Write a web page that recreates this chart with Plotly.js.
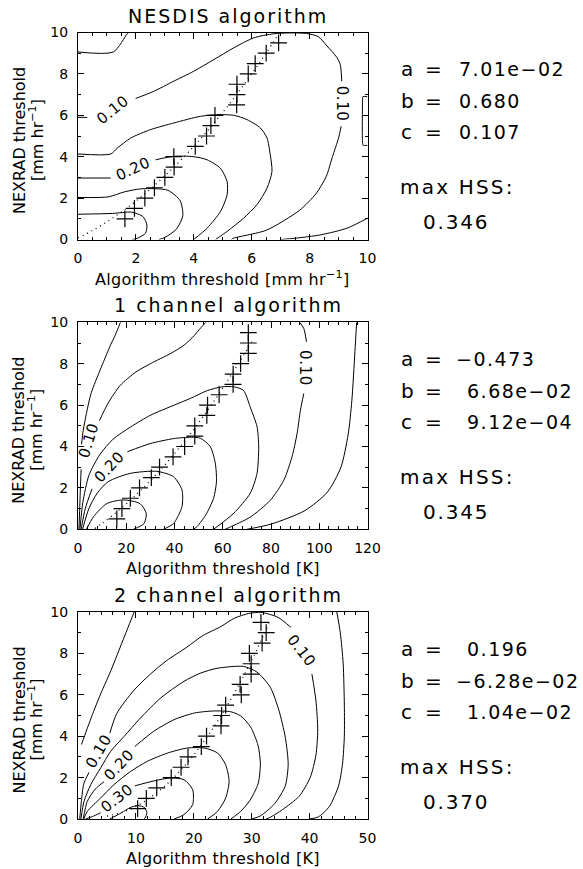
<!DOCTYPE html>
<html><head><meta charset="utf-8">
<script src="https://cdn.plot.ly/plotly-3.0.1.min.js"></script>
<style>html,body{margin:0;padding:0;background:#fff;} #chart{width:583px;height:869px;}</style>
</head><body><div id="chart"></div>
<script>
// ---------------- DATA ----------------
// Panel titles / axis titles
const panelTitles = ["NESDIS algorithm", "1 channel algorithm", "2 channel algorithm"];
const xTitles = ["Algorithm threshold [mm hr<sup>\u22121</sup>]", "Algorithm threshold [K]", "Algorithm threshold [K]"];
const xRanges = [[0, 10], [0, 120], [0, 50]];
const xMajor = [2, 20, 10];
const xMinor = [0.5, 4, 2];

// Fit coefficients and scores (text panel)
const coefA = ["7.01e\u221202", "\u22120.473", "0.196"];
const coefB = ["0.680", "6.68e\u221202", "\u22126.28e\u221202"];
const coefC = ["0.107", "9.12e\u221204", "1.04e\u221202"];
const maxHSS = ["0.346", "0.345", "0.370"];

// Best thresholds (plus markers): NEXRAD threshold values
const nexradThr1 = [1.0,1.5,2.0,2.5,3.0,3.5,4.0,4.5,5.0,5.5,6.0,6.5,7.0,7.5,8.0,8.5,9.0,9.5];
const algThr1    = [1.62,1.95,2.31,2.64,3.0,3.32,3.31,4.05,4.44,4.59,4.73,5.48,5.49,5.49,5.88,6.12,6.5,6.93];
const nexradThr2 = [0.5,1.0,1.5,2.0,2.5,3.0,3.5,4.0,4.5,5.0,5.5,6.0,6.5,7.0,7.5,8.0,8.5,9.0,9.5];
const algThr2    = [16.1,18.2,21.7,25.5,30.4,33.8,39.4,44.2,48.4,48.4,53.4,53.7,58.5,64.3,64.3,67.4,70.6,70.6,70.6];
const nexradThr3 = [0.5,1.0,1.5,2.0,2.5,3.0,3.5,4.0,4.5,5.0,5.5,6.0,6.5,7.0,7.5,8.0,8.5,9.0,9.5];
const algThr3    = [10.3,11.8,13.6,16.1,17.8,19.0,21.3,22.2,24.7,24.8,25.5,28.2,28.0,29.9,29.9,29.6,31.8,32.5,31.6];

// Fitted curves (dotted)
const fitX1 = [0,0.5,1,1.5,2,2.5,3,3.5,4,4.5,5,5.5,6,6.5,6.95];
const fitY1 = [0.07,0.437,0.857,1.331,1.858,2.439,3.073,3.761,4.502,5.297,6.145,7.047,8.002,9.011,9.964];
const fitX2 = [7,10,15,20,25,30,35,40,45,50,55,60,65,70,72];
const fitY2 = [0.039,0.286,0.734,1.228,1.767,2.352,2.982,3.658,4.38,5.147,5.96,6.818,7.722,8.672,9.064];
const fitX3 = [5,7.5,10,12.5,15,17.5,20,22.5,25,27.5,30,32,33];
const fitY3 = [0.142,0.31,0.608,1.036,1.594,2.282,3.1,4.048,5.126,6.334,7.672,8.836,9.449];

// HSS contour paths [algorithm threshold, NEXRAD threshold]; null = gap for label
const nesdis005a = [[0,9.06],[1.22,9.06],[1.7,9.94],[1.75,10]];
const nesdis005b = [[10,1.03],[9.3,0.55],[8.4,0.23],[7.5,0.06],[7.0,0]];
const nesdis010 = [[0,5.9],[0.32,5.9],null,[1.99,6.81],[2.62,7.16],[3.31,7.65],[4.0,8.13],[4.69,8.69],[5.38,9.26],[6.07,9.74],[6.76,9.94],[7.33,9.98],[7.9,9.95],[8.3,9.8],[8.6,9.35],[8.94,8.8],[9.06,8.45],[9.11,7.65],null,[9.09,5.47],[9.0,4.9],[8.79,4.0],[8.57,3.03],[8.23,2.23],[7.66,1.42],[6.51,0.45],[5.34,0.05],[5.3,0]];
const nesdis010e = [[10,6.9],[9.84,6.9],[9.83,6.75],[9.83,4.65],[9.85,4.55],[10,4.55]];
const nesdis015 = [[0,4.13],[1.13,4.13],[1.36,4.42],[1.82,4.9],[2.51,5.31],[3.31,5.63],[4.23,5.95],[4.8,6.03],[5.38,6.0],[5.84,5.79],[6.3,5.39],[6.53,4.9],[6.64,4.1],[6.7,3.29],[6.53,2.48],[6.18,1.68],[5.72,1.03],[5.15,0.39],[4.75,0]];
const nesdis020 = [[0,2.97],[1.13,2.97],null,[2.68,3.85],[3.31,4.02],[4.0,4.0],[4.46,3.85],[4.92,3.44],[5.15,2.8],[5.15,2.15],[4.92,1.35],[4.46,0.55],[4.0,0]];
const nesdis025 = [[0,2.03],[1.05,2.06],[1.6,2.3],[2.2,2.45],[3.1,2.38],[3.53,1.87],[3.62,1.15],[3.4,0.5],[3.0,0.1],[2.8,0]];
const nesdis030 = [[0,1.22],[1.2,1.26],[1.85,1.32],[2.25,1.1],[2.38,0.7],[2.33,0.3],[2.05,0.06],[1.88,0]];

const ch1_005a = [[1.45,4.1],[2.2,4.8],[3.5,5.6],[5.5,6.6],[9.2,7.7],[13.1,8.8],[15.5,9.4],[17.6,10]];
const ch1_005b = [[115.5,10],[114.8,8.6],[113.5,6.2],[112,4.6],[109,3.0],[103.4,1.8],[94,0.9],[80,0.25],[70,0]];
const ch1_010a = [[0.4,0],[0.7,1.0],[1.0,2.0],[1.3,2.9],null,[8.9,5.25],[12.5,6.1],[17.5,6.95],[24,7.6],[30,8.0],[38.5,8.5],[44,8.9],[48.1,9.35],[51,9.75],[53,10]];
const ch1_010b = [[91.9,10],[93.6,9.7],[94.7,9.06],null,[93.6,6.56],[92.2,5.75],[90.8,4.62],[88.7,3.5],[85.3,2.37],[79.7,1.4],[71.4,0.59],[63.1,0.11],[61,0]];
const ch1_015 = [[0.8,0],[2.0,1.3],[4.5,2.6],[9.0,3.6],[14.5,4.35],[21.9,4.95],[30.2,5.52],[39.9,6.0],[46.7,6.33],[53.6,6.7],[59.5,6.88],[64.8,6.88],[68.6,6.71],[71.4,5.9],[74.2,4.96],[74.9,3.98],[74.2,2.7],[71.4,1.74],[64.5,0.77],[56.2,0]];
const ch1_020 = [[1.3,0],[3.0,1.0],[5.8,1.95],null,[20.5,3.75],[29.9,4.14],[39.6,4.38],[47,4.45],[50.7,4.4],[54.8,4.0],[56.9,3.2],[57.4,2.3],[56.2,1.5],[53,0.7],[49.5,0.15],[48,0]];
const ch1_025 = [[1.9,0],[4.5,1.0],[8.0,1.75],[12.5,2.3],[21.6,2.7],[32.7,2.8],[39.6,2.54],[43.1,1.9],[43.1,1.09],[39.6,0.28],[35.4,0]];
const ch1_030 = [[3.5,0],[6.4,0.6],[11.9,1.24],[18.8,1.42],[25.7,1.24],[28.3,0.76],[27.3,0.27],[23,0]];

const ch2_005a = [[0.6,3.6],[1.5,4.3],[2.7,5.2],[4.0,6.1],[5.5,7.05],[7.5,8.45],[9.7,10]];
const ch2_005b = [[44.7,10],[45.3,9.0],[45.8,7.5],[46,5.5],[46,4.0],[45.7,2.7],[45.0,1.6],[43.4,0.6],[41.5,0.1],[40,0]];
const ch2_010 = [[0.3,0],[0.6,0.9],[1.0,1.7],[1.9,2.25],null,[5.5,4.15],[6.7,5.1],[9.6,6.2],[12.5,7.0],[15.3,7.65],[18.8,8.3],[21.5,8.85],[24.7,9.3],[27,9.7],[29.5,9.93],[31.6,9.98],[34.5,9.75],[36.8,9.25],null,[40.4,7.0],[41.1,5.7],[41.4,4.3],[41.1,3.1],[40.1,2.0],[38.2,1.1],[35.3,0.45],[33.2,0.08],[32.5,0]];
const ch2_015 = [[0.5,0],[1.04,0.85],[2.2,1.66],[3.9,2.46],[5.65,3.27],[7.96,3.99],[10.8,4.88],[14.3,5.85],[18.3,6.65],[21.1,7.04],[24,7.28],[28.6,7.37],[30.9,7.1],[33.2,6.37],[34.7,5.25],[35.8,3.95],[36.3,2.65],[35.8,1.6],[34,0.75],[31.5,0.15],[30,0]];
const ch2_020 = [[0.9,0],[1.6,0.85],[3.0,1.45],[4.5,1.8],null,[9.8,3.5],[13.1,4.24],[16.6,4.8],[20.1,5.12],[23.5,5.22],[26.4,5.18],[28.1,4.98],[29.8,4.45],[31.1,3.55],[31.5,2.65],[31.1,1.7],[29.7,0.9],[28.1,0.37],[26.4,0]];
const ch2_025 = [[1.0,0],[1.6,0.37],[3.9,1.01],[6.2,1.66],[9.1,2.3],[12,2.79],[15.5,3.19],[18.9,3.43],[21.8,3.43],[24.1,3.19],[25.5,2.62],[26.1,1.82],[25.5,1.01],[24.1,0.37],[22.4,0]];
const ch2_030 = [[1.3,0],[2.5,0.12],[3.9,0.3],null,[9.8,1.6],[13.1,1.84],[16.0,1.98],[18.3,1.9],[19.8,1.42],[19.8,0.69],[18.3,0.21],[16.6,0]];
const ch2_035 = [[5.5,0],[7.5,0.3],[9.0,0.55],[10.3,0.65],[11.5,0.55],[11.9,0.3],[11.6,0.05],[11.4,0]];

const contours = [
  [nesdis005a, nesdis005b, nesdis010, nesdis010e, nesdis015, nesdis020, nesdis025, nesdis030],
  [ch1_005a, ch1_005b, ch1_010a, ch1_010b, ch1_015, ch1_020, ch1_025, ch1_030],
  [ch2_005a, ch2_005b, ch2_010, ch2_015, ch2_020, ch2_025, ch2_030, ch2_035]
];
const markX = [algThr1, algThr2, algThr3];
const markY = [nexradThr1, nexradThr2, nexradThr3];
const fitXs = [fitX1, fitX2, fitX3];
const fitYs = [fitY1, fitY2, fitY3];

// contour labels: [x, y, text, angle]
const contourLabels = [
  [[1.2, 6.25, "0.10", -39], [1.9, 3.42, "0.20", -25], [9.12, 6.56, "0.10", 90]],
  [[4.57, 4.3, "0.10", -73], [12.9, 3.03, "0.20", -47], [94.0, 7.8, "0.10", 90]],
  [[3.63, 3.27, "0.10", -60], [7.1, 2.62, "0.20", -47], [6.8, 1.01, "0.30", -38], [38.6, 8.1, "0.10", 52]]
];

// ---------------- BUILD ----------------
const W = 583, H = 869;
const FONT = "DejaVu Sans";
const L = 78, R = 367.5;
const tops = [32.5, 322.3, 612];
const PH = 207;
const px = v => v / W;
const py = v => 1 - v / H;
const spaced = (t, s) => '<span style="letter-spacing:' + s + 'px">' + t + '</span>';

const traces = [];
const annotations = [];
const layout = {
  width: W, height: H, margin: {l: 0, r: 0, t: 0, b: 0},
  paper_bgcolor: "white", plot_bgcolor: "white", showlegend: false,
  font: {family: FONT, color: "black"}
};

for (let i = 0; i < 3; i++) {
  const sfx = i === 0 ? "" : String(i + 1);
  const xa = "x" + sfx, ya = "y" + sfx;
  const top = tops[i], bot = top + PH;
  const axBase = {
    showline: true, linecolor: "black", linewidth: 1, mirror: "ticks",
    ticks: "inside", ticklen: 6, tickcolor: "black", tickwidth: 1,
    showgrid: false, zeroline: false, fixedrange: true,
    tickfont: {family: FONT, size: 14, color: "black"}
  };
  layout["xaxis" + sfx] = Object.assign({}, axBase, {
    domain: [px(L), px(R)], anchor: ya, range: xRanges[i], dtick: xMajor[i], tick0: 0,
    minor: {dtick: xMinor[i], ticks: "inside", ticklen: 3, tickcolor: "black", showgrid: false},
    ticklabelstandoff: 6
  });
  layout["yaxis" + sfx] = Object.assign({}, axBase, {
    domain: [py(bot), py(top)], anchor: xa, range: [0, 10], dtick: 2, tick0: 0,
    minor: {dtick: 1, ticks: "inside", ticklen: 3, tickcolor: "black", showgrid: false},
    ticklabelstandoff: 6
  });

  contours[i].forEach(c => {
    traces.push({
      type: "scatter", mode: "lines", xaxis: xa, yaxis: ya,
      x: c.map(p => p ? p[0] : null), y: c.map(p => p ? p[1] : null),
      connectgaps: false, hoverinfo: "skip",
      line: {color: "black", width: 1, shape: "spline", smoothing: 0.7}
    });
  });
  traces.push({
    type: "scatter", mode: "lines", xaxis: xa, yaxis: ya,
    x: fitXs[i], y: fitYs[i], hoverinfo: "skip",
    line: {color: "black", width: 1.2, dash: "1px,4px", shape: "spline"}
  });
  traces.push({
    type: "scatter", mode: "markers", xaxis: xa, yaxis: ya,
    x: markX[i], y: markY[i], hoverinfo: "skip", cliponaxis: false,
    marker: {symbol: "cross-thin-open", size: 12, color: "black", line: {color: "black", width: 1.2}}
  });

  contourLabels[i].forEach(lb => {
    annotations.push({xref: xa, yref: ya, x: lb[0], y: lb[1], text: spaced(lb[2], 0.6), textangle: lb[3],
      showarrow: false, font: {family: FONT, size: 15, color: "black"}});
  });

  const pa = (text, x, y, size, opts) => Object.assign({
    xref: "paper", yref: "paper", x: px(x), y: py(y), text: text, showarrow: false,
    xanchor: "center", yanchor: "middle", font: {family: FONT, size: size, color: "black"}
  }, opts || {});

  annotations.push(pa(spaced(panelTitles[i], 2), 228, top - 17, 19));
  annotations.push(pa(spaced(xTitles[i], 0.3), (L + R) / 2, bot + 39, 16));
  annotations.push(pa("NEXRAD threshold", 19, top + PH / 2 + 5, 16, {textangle: -90}));
  annotations.push(pa("[mm hr<sup>\u22121</sup>]", 36, top + PH / 2 + 4, 16, {textangle: -90}));

  const off = top - tops[0];
  const valX = [[457, 457, 457], [454, 465, 465], [465, 454, 465]][i];
  const rowsY = [69, 101, 132];
  ["a", "b", "c"].forEach((lab, k) => {
    annotations.push(pa(lab, 399, rowsY[k] + off, 20, {xanchor: "left"}));
    annotations.push(pa("=", 423, rowsY[k] + off, 20, {xanchor: "left"}));
  });
  [coefA[i], coefB[i], coefC[i]].forEach((v, k) => {
    annotations.push(pa(spaced(v, 1.5), valX[k], rowsY[k] + off, 19, {xanchor: "left"}));
  });
  annotations.push(pa(spaced("max HSS:", 2.2), 398, 187 + off, 20, {xanchor: "left"}));
  annotations.push(pa(spaced(maxHSS[i], 1.8), 421, 222 + off, 20, {xanchor: "left"}));
}
layout.annotations = annotations;

Plotly.newPlot("chart", traces, layout, {staticPlot: true, displayModeBar: false});
</script></body></html>
